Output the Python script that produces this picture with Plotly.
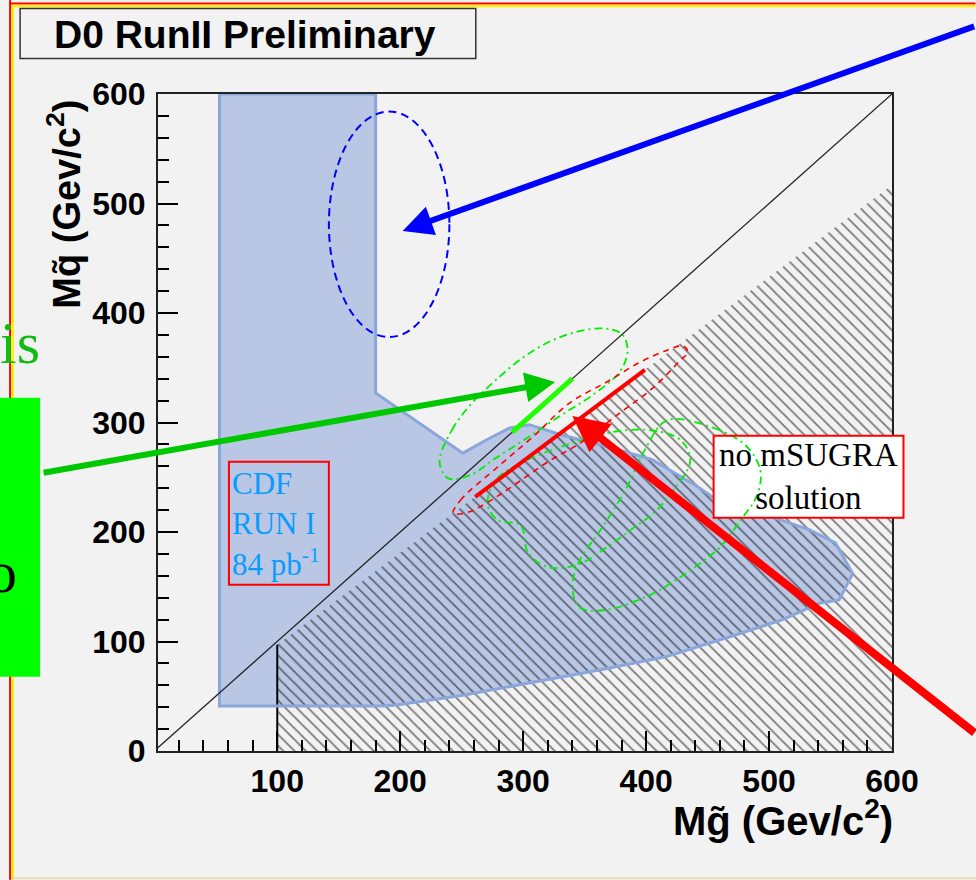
import plotly.graph_objects as go

# ---------------- data ----------------
x_tick_vals = [100, 200, 300, 400, 500, 600]
y_tick_vals = [0, 100, 200, 300, 400, 500, 600]

diag_x = [0, 600]
diag_y = [0, 600]

# hatched "no mSUGRA solution" region
hatch_x = [100, 100, 600, 600, 100]
hatch_y = [0, 97, 517, 0, 0]
hatch_edge_x = [100, 100]
hatch_edge_y = [0, 97]

# CDF Run I excluded region
cdf_x = [53, 180, 180, 251, 270, 289, 305, 330, 378, 405, 441, 454, 494, 533, 554, 568,
         557, 541, 511, 470, 416, 386, 362, 319, 251, 197, 186, 53, 53]
cdf_y = [600, 600, 327, 272, 284, 295, 298, 289, 275, 266, 242, 232, 217, 202, 190, 162,
         138, 135, 120, 105, 86, 79, 74, 65, 51, 42, 41, 41, 600]

# blue dashed ellipse (bounding box)
blue_ell_x = [142, 240]
blue_ell_y = [378, 584]

# green dash-dot contours
g1_x = [232, 242, 257, 277, 302, 330, 363, 380, 385, 379, 359, 330, 302, 277, 257, 239, 232]
g1_y = [264, 293, 316, 338, 361, 378, 386, 381, 366, 347, 327, 306, 285, 267, 252, 249, 264]
g2_x = [271, 279, 302, 334, 371, 403, 428, 436, 422, 406, 390, 368, 344, 320, 304, 298, 279, 271]
g2_y = [226, 249, 265, 279, 291, 293, 284, 265, 238, 217, 204, 186, 170, 168, 181, 206, 211, 226]
g3_x = [417, 455, 481, 493, 490, 477, 460, 447, 428, 406, 368, 346, 340, 346, 363, 383, 399, 417]
g3_y = [302, 295, 279, 256, 233, 211, 186, 174, 159, 144, 129, 131, 151, 174, 202, 238, 275, 302]

# red dashed contour
r_x = [243, 249, 281, 308, 338, 368, 395, 417, 430, 434, 428, 406, 379, 346, 320, 289, 271, 255, 243]
r_y = [217, 229, 261, 287, 318, 337, 355, 366, 370, 364, 357, 332, 309, 281, 264, 240, 227, 218, 217]

# solid segments
red_seg_x = [261, 399]
red_seg_y = [232, 348]
green_seg_x = [291, 340]
green_seg_y = [291, 340]

# "no mSUGRA solution" box (inside the frame)
nosol_box_x = [455, 605, 605, 455, 455]
nosol_box_y = [213, 213, 288, 288, 213]

# arrow heads (data coords)
blue_head = (202, 475)
green_head = (326, 337)
red_head = (340, 306)

BG = "#f2f2f2"
BLUE_FILL = "#b9c7e5"
BLUE_EDGE = "#8aa6da"

fig = go.Figure()

fig.add_trace(go.Scatter(x=cdf_x, y=cdf_y, mode="lines", fill="toself",
                         fillcolor=BLUE_FILL, line=dict(width=0), hoverinfo="skip"))
fig.add_trace(go.Scatter(x=hatch_x, y=hatch_y, mode="lines", fill="toself",
                         fillcolor="rgba(0,0,0,0)", line=dict(width=0),
                         fillpattern=dict(shape="\\", size=8, solidity=0.22,
                                          fgcolor="#000000", bgcolor="rgba(0,0,0,0)"),
                         hoverinfo="skip"))
fig.add_trace(go.Scatter(x=hatch_edge_x, y=hatch_edge_y, mode="lines",
                         line=dict(color="black", width=2), hoverinfo="skip"))
fig.add_trace(go.Scatter(x=cdf_x, y=cdf_y, mode="lines",
                         line=dict(color=BLUE_EDGE, width=3), hoverinfo="skip"))
fig.add_trace(go.Scatter(x=diag_x, y=diag_y, mode="lines",
                         line=dict(color="#222222", width=1.3), hoverinfo="skip"))
fig.add_trace(go.Scatter(x=nosol_box_x, y=nosol_box_y, mode="lines", fill="toself",
                         fillcolor="white", line=dict(width=0), hoverinfo="skip"))

for cx, cy in [(g1_x, g1_y), (g2_x, g2_y), (g3_x, g3_y)]:
    fig.add_trace(go.Scatter(x=cx, y=cy, mode="lines", line_shape="spline",
                             line=dict(color="#00ee00", width=1.8, dash="8px,4px,2px,4px"),
                             hoverinfo="skip"))
fig.add_trace(go.Scatter(x=r_x, y=r_y, mode="lines", line_shape="spline",
                         line=dict(color="#ff0000", width=1.6, dash="6px,5px"),
                         hoverinfo="skip"))
fig.add_trace(go.Scatter(x=red_seg_x, y=red_seg_y, mode="lines",
                         line=dict(color="#ff0000", width=4), hoverinfo="skip"))
fig.add_trace(go.Scatter(x=green_seg_x, y=green_seg_y, mode="lines",
                         line=dict(color="#22ff00", width=5), hoverinfo="skip"))

# ---------------- layout helpers ----------------
def xp(px):
    return (px - 158) / 734.5

def yp(py):
    return (751.2 - py) / 656.8

shapes = []
# slide borders
shapes.append(dict(type="line", xref="paper", yref="paper", x0=xp(10), x1=xp(10),
                   y0=yp(0), y1=yp(880), line=dict(color="#ff0000", width=2), layer="below"))
shapes.append(dict(type="line", xref="paper", yref="paper", x0=xp(12.5), x1=xp(12.5),
                   y0=yp(6), y1=yp(880), line=dict(color="#ffee00", width=2.5), layer="below"))
shapes.append(dict(type="line", xref="paper", yref="paper", x0=xp(9), x1=xp(976),
                   y0=yp(4), y1=yp(4), line=dict(color="#ff0000", width=2), layer="below"))
shapes.append(dict(type="line", xref="paper", yref="paper", x0=xp(11.5), x1=xp(976),
                   y0=yp(6.5), y1=yp(6.5), line=dict(color="#ffee00", width=2.5), layer="below"))
shapes.append(dict(type="line", xref="paper", yref="paper", x0=xp(11), x1=xp(976),
                   y0=yp(878.5), y1=yp(878.5), line=dict(color="#e6dfb5", width=2), layer="below"))
# green box at left
shapes.append(dict(type="rect", xref="paper", yref="paper", x0=xp(-2), x1=xp(40),
                   y0=yp(677), y1=yp(398), fillcolor="#00ff00", line=dict(width=0), layer="above"))
# title box
shapes.append(dict(type="rect", xref="paper", yref="paper", x0=xp(20), x1=xp(476),
                   y0=yp(59), y1=yp(9), line=dict(color="#333333", width=1.5), layer="above"))
# blue dashed ellipse
shapes.append(dict(type="circle", xref="x", yref="y", x0=blue_ell_x[0], x1=blue_ell_x[1],
                   y0=blue_ell_y[0], y1=blue_ell_y[1],
                   line=dict(color="#0000ff", width=2, dash="8px,5px"), layer="above"))
# CDF box
shapes.append(dict(type="rect", xref="paper", yref="paper", x0=xp(229), x1=xp(329),
                   y0=yp(585), y1=yp(462), line=dict(color="#ff0000", width=2), layer="above"))
# no mSUGRA box: overhang past the frame + red border
shapes.append(dict(type="rect", xref="paper", yref="paper", x0=xp(889), x1=xp(904),
                   y0=yp(518), y1=yp(436), fillcolor="white", line=dict(width=0), layer="above"))
shapes.append(dict(type="rect", xref="paper", yref="paper", x0=xp(714), x1=xp(904),
                   y0=yp(518), y1=yp(436), line=dict(color="#ff0000", width=2), layer="above"))

serif = "Liberation Serif, Times New Roman, serif"
sans = "Liberation Sans, Arial, sans-serif"

annotations = [
    dict(text="D0 RunII Preliminary", xref="paper", yref="paper", x=xp(245), y=yp(35),
         xanchor="center", yanchor="middle", showarrow=False,
         font=dict(family=sans, size=39, color="black", weight="bold")),
    dict(text="Mq\u0303 (Gev/c<sup>2</sup>)", xref="paper", yref="paper", x=xp(64), y=yp(205),
         xanchor="center", yanchor="middle", textangle=-90, showarrow=False,
         font=dict(family=sans, size=38, color="black", weight="bold")),
    dict(text="Mg\u0303 (Gev/c<sup>2</sup>)", xref="paper", yref="paper", x=xp(896), y=yp(818),
         xanchor="right", yanchor="middle", showarrow=False,
         font=dict(family=sans, size=40, color="black", weight="bold")),
    dict(text="CDF<br>RUN I<br>84 pb<sup>-1</sup>", xref="paper", yref="paper", x=xp(230), y=yp(524),
         xanchor="left", yanchor="middle", align="left", showarrow=False,
         font=dict(family=serif, size=31, color="#0a9bff")),
    dict(text="no mSUGRA<br>solution", xref="paper", yref="paper", x=xp(809), y=yp(477),
         xanchor="center", yanchor="middle", showarrow=False,
         font=dict(family=serif, size=33, color="black")),
    dict(text="is", xref="paper", yref="paper", x=xp(-1), y=yp(343), xanchor="left",
         yanchor="middle", showarrow=False, borderpad=0,
         font=dict(family=serif, size=60, color="#11bb11")),
    dict(text="o", xref="paper", yref="paper", x=xp(18), y=yp(572), xanchor="right",
         yanchor="middle", showarrow=False, borderpad=0,
         font=dict(family=serif, size=60, color="black")),
    # arrows
    dict(text="", x=blue_head[0], y=blue_head[1], xref="x", yref="y", ax=573, ay=-205,
         showarrow=True, arrowhead=2, arrowsize=1.0, arrowwidth=6, arrowcolor="#0000ff", standoff=0),
    dict(text="", x=green_head[0], y=green_head[1], xref="x", yref="y", ax=-513, ay=91,
         showarrow=True, arrowhead=2, arrowsize=1.0, arrowwidth=6, arrowcolor="#00c800", standoff=0),
    dict(text="", x=red_head[0], y=red_head[1], xref="x", yref="y", ax=404, ay=318,
         showarrow=True, arrowhead=2, arrowsize=0.9, arrowwidth=8, arrowcolor="#ff0000", standoff=0),
]

tickfont = dict(family=sans, size=32, color="black", weight="bold")

fig.update_layout(
    width=976, height=880,
    margin=dict(l=158, r=83.5, t=94, b=129),
    paper_bgcolor=BG, plot_bgcolor=BG,
    showlegend=False,
    shapes=shapes,
    annotations=annotations,
    xaxis=dict(range=[3, 600], tickvals=x_tick_vals, ticks="inside", ticklen=20, tickwidth=2,
               tickcolor="black", showgrid=False, zeroline=False, showline=True,
               linecolor="#222222", linewidth=2, mirror=True, tickfont=tickfont,
               ticklabelstandoff=1,
               minor=dict(dtick=20, tick0=0, ticks="inside", ticklen=11, tickwidth=1.5,
                          tickcolor="black", showgrid=False)),
    yaxis=dict(range=[0, 600], tickvals=y_tick_vals, ticks="inside", ticklen=20, tickwidth=2,
               tickcolor="black", showgrid=False, zeroline=False, showline=True,
               linecolor="#222222", linewidth=2, mirror=True, tickfont=tickfont,
               ticklabelstandoff=4,
               minor=dict(dtick=20, tick0=0, ticks="inside", ticklen=11, tickwidth=1.5,
                          tickcolor="black", showgrid=False)),
)

fig.write_html("out.html")
